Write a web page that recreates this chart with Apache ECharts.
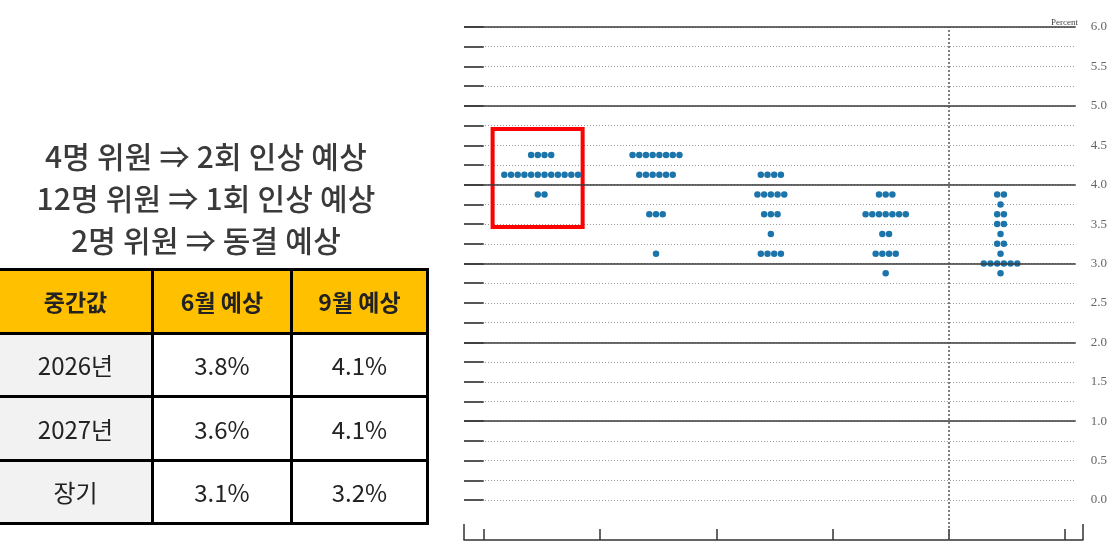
<!DOCTYPE html>
<html>
<head>
<meta charset="utf-8">
<script src="https://cdn.jsdelivr.net/npm/echarts@6/dist/echarts.min.js"></script>
<style>
  html, body { margin: 0; padding: 0; background: #fff; }
  #wrap { position: relative; width: 1110px; height: 556px; overflow: hidden; }
  #chart { position: absolute; left: 0; top: 0; width: 1110px; height: 556px; }
  #note { position: absolute; left: 0; top: 134px; width: 412px; text-align: center;
          font-family: "Noto Sans CJK KR", "Noto Sans", sans-serif; font-size: 30px; font-weight: 500;
          line-height: 42px; color: #3a3a3a; letter-spacing: 0.2px; }
  #tbl { position: absolute; left: 0; top: 268px; border-collapse: collapse;
         font-family: "Noto Sans CJK KR", "Noto Sans", sans-serif; color: #222; }
  #tbl td, #tbl th { border: 3px solid #000; text-align: center; padding: 0; }
  #tbl tr > :first-child { border-left: none; }
  #tbl th { background: #FFC000; font-size: 23px; font-weight: 700; height: 60.5px; }
  #tbl td { font-size: 24px; font-weight: 400; height: 60.5px; background: #fff; }
  #tbl td.rowh { background: #f2f2f2; }
</style>
</head>
<body>
<div id="wrap">
  <div id="chart"></div>
  <div id="note"></div>
  <table id="tbl"></table>
</div>
<script>
// ---- data ----
const periods = ['2025', '2026', '2027', '2028', 'Longer run'];
const dots2025 = [[4.375, 4], [4.125, 12], [3.875, 2]];
const dots2026 = [[4.375, 8], [4.125, 6], [3.625, 3], [3.125, 1]];
const dots2027 = [[4.125, 4], [3.875, 5], [3.625, 3], [3.375, 1], [3.125, 4]];
const dots2028 = [[3.875, 3], [3.625, 7], [3.375, 2], [3.125, 4], [2.875, 1]];
const dotsLonger = [[3.875, 2], [3.75, 1], [3.625, 2], [3.5, 2], [3.375, 1], [3.25, 2], [3.125, 1], [3.0, 6], [2.875, 1]];
const yTicks = [0, 0.5, 1, 1.5, 2, 2.5, 3, 3.5, 4, 4.5, 5, 5.5, 6];
const solidLevels = [1, 2, 3, 4, 5, 6];
const periodTicks = [0, 1, 2, 3, 4, 5];
const longerRunDivider = 4;
const highlightBox = [[0.077, 4.706], [0.861, 3.463]];

const noteLines = ['4명 위원 ⇒ 2회 인상 예상', '12명 위원 ⇒ 1회 인상 예상', '2명 위원 ⇒ 동결 예상'];
const tableHeader = ['중간값', '6월 예상', '9월 예상'];
const tableRows = ['2026년', '2027년', '장기'];
const juneMedian = ['3.8%', '3.6%', '3.1%'];
const septMedian = ['4.1%', '4.1%', '3.2%'];

// ---- left side text & table ----
document.getElementById('note').innerHTML = noteLines.map(s => '<div>' + s + '</div>').join('');
const colW = [151, 136, 133];
let html = '<tr>' + tableHeader.map((h, i) => '<th style="width:' + colW[i] + 'px">' + h + '</th>').join('') + '</tr>';
tableRows.forEach((r, i) => {
  html += '<tr><td class="rowh">' + r + '</td><td>' + juneMedian[i] + '</td><td>' + septMedian[i] + '</td></tr>';
});
document.getElementById('tbl').innerHTML = html;

// ---- dot plot ----
const allDots = [dots2025, dots2026, dots2027, dots2028, dotsLonger];
const dotGap = 6.7;
const dotData = [];
allDots.forEach((col, ci) => {
  col.forEach(([rate, n]) => {
    for (let k = 0; k < n; k++) {
      dotData.push({ value: [ci + 0.5, rate], symbolOffset: [(k - (n - 1) / 2) * dotGap, 0], name: periods[ci] });
    }
  });
});

const xMin = -0.172, xMax = 5.155;
const serif = '"Liberation Serif", "DejaVu Serif", serif';

const chart = echarts.init(document.getElementById('chart'), null, { renderer: 'canvas' });
chart.setOption({
  animation: false,
  title: { text: 'Percent', right: 27, top: 13,
    textStyle: { fontFamily: serif, fontSize: 9, color: '#444', fontWeight: 'normal' } },
  grid: [
    { left: 464, right: 27, top: 27, bottom: 56 },
    { left: 464, right: 27, top: 27, bottom: 16 }
  ],
  xAxis: [
    { gridIndex: 0, type: 'value', min: xMin, max: xMax, show: false },
    { gridIndex: 1, type: 'value', position: 'bottom', min: xMin, max: xMax,
      axisLine: { show: true, lineStyle: { color: '#333', width: 1.5 } },
      axisTick: { show: true, inside: true, length: 11, customValues: periodTicks, lineStyle: { color: '#333', width: 1.5 } },
      axisLabel: { show: false }, splitLine: { show: false } },
    { gridIndex: 1, type: 'value', position: 'bottom', offset: 0, min: xMin, max: xMax,
      axisLine: { show: false },
      axisTick: { show: true, inside: true, length: 16, customValues: [xMin, xMax], lineStyle: { color: '#333', width: 1.5 } },
      axisLabel: { show: false }, splitLine: { show: false } }
  ],
  yAxis: [
    { gridIndex: 0, type: 'value', position: 'right', min: 0, max: 6, interval: 0.25,
      axisLine: { show: false },
      axisTick: { show: true, inside: true, length: 13, lineStyle: { color: '#555', width: 2 } },
      axisLabel: { show: true, margin: 15, fontFamily: serif, fontSize: 13, color: '#666',
        formatter: v => (yTicks.some(t => Math.abs(t - v) < 1e-9) ? v.toFixed(1) : '') },
      splitLine: { show: true, lineStyle: { color: '#9a9a9a', width: 1, type: [1, 2] } } },
    { gridIndex: 0, type: 'value', position: 'left', min: 0, max: 6, interval: 0.25,
      axisLine: { show: false },
      axisTick: { show: true, inside: true, length: 13, lineStyle: { color: '#555', width: 2 } },
      axisLabel: { show: false }, splitLine: { show: false } },
    { gridIndex: 1, type: 'value', min: 0, max: 1, show: false }
  ],
  series: [
    { type: 'line', xAxisIndex: 0, yAxisIndex: 0, data: [], silent: true,
      markLine: { silent: true, symbol: 'none', label: { show: false },
        lineStyle: { color: '#3a3a3a', width: 1.5, type: 'solid' },
        data: solidLevels.map(v => ({ yAxis: v })) } },
    { type: 'line', xAxisIndex: 1, yAxisIndex: 2, data: [], silent: true,
      markLine: { silent: true, symbol: 'none', label: { show: false },
        lineStyle: { color: '#555', width: 1.5, type: [2, 2] },
        data: [{ xAxis: longerRunDivider }] } },
    { type: 'scatter', xAxisIndex: 0, yAxisIndex: 0, symbol: 'circle', symbolSize: 6.5,
      itemStyle: { color: '#1b75aa', opacity: 1 }, data: dotData,
      markArea: { silent: true,
        itemStyle: { color: 'rgba(0,0,0,0)', borderColor: '#ff0000', borderWidth: 4 },
        data: [[{ coord: highlightBox[0] }, { coord: highlightBox[1] }]] } }
  ]
});
</script>
</body>
</html>
